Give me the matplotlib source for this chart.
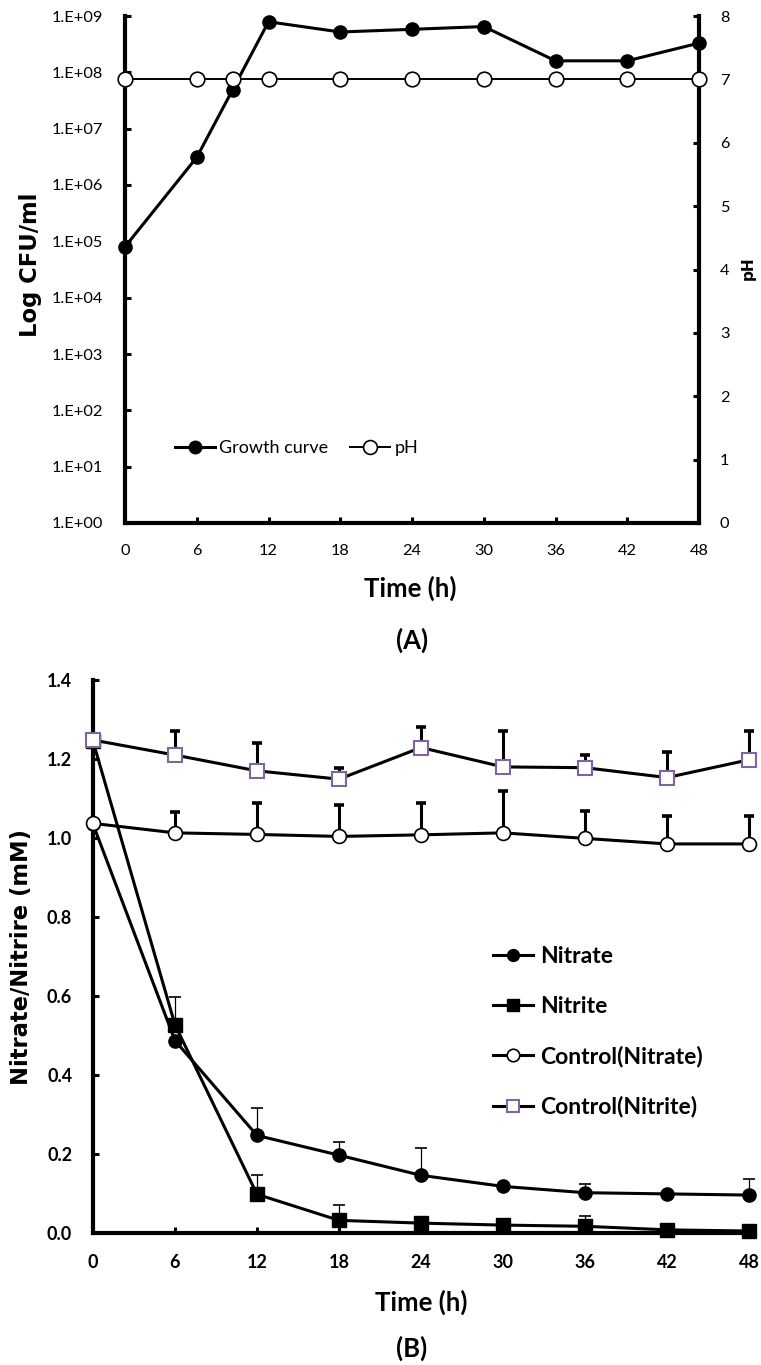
import numpy as np
import matplotlib
matplotlib.use("Agg")
import matplotlib.pyplot as plt
from matplotlib.ticker import NullLocator

# ---------------- data: panel A ----------------
time_a = [0, 6, 9, 12, 18, 24, 30, 36, 42, 48]
growth_cfu = [8.0e4, 3.1e6, 4.9e7, 7.9e8, 5.2e8, 5.8e8, 6.5e8, 1.6e8, 1.6e8, 3.3e8]
ph_values = [7.0, 7.0, 7.0, 7.0, 7.0, 7.0, 7.0, 7.0, 7.0, 7.0]
log_ticks = [1e0, 1e1, 1e2, 1e3, 1e4, 1e5, 1e6, 1e7, 1e8, 1e9]
log_tick_labels = ["1.E+00", "1.E+01", "1.E+02", "1.E+03", "1.E+04",
                   "1.E+05", "1.E+06", "1.E+07", "1.E+08", "1.E+09"]
ph_ticks = [0, 1, 2, 3, 4, 5, 6, 7, 8]
time_ticks = [0, 6, 12, 18, 24, 30, 36, 42, 48]

# ---------------- data: panel B ----------------
time_b = [0, 6, 12, 18, 24, 30, 36, 42, 48]
nitrate = [1.035, 0.487, 0.247, 0.197, 0.146, 0.118, 0.102, 0.099, 0.096]
nitrate_err = [0.0, 0.0, 0.070, 0.033, 0.070, 0.0, 0.022, 0.0, 0.040]
nitrite = [1.245, 0.527, 0.098, 0.032, 0.025, 0.020, 0.017, 0.008, 0.005]
nitrite_err = [0.0, 0.070, 0.050, 0.038, 0.015, 0.0, 0.027, 0.0, 0.0]
ctrl_nitrate = [1.037, 1.013, 1.009, 1.004, 1.008, 1.013, 0.999, 0.985, 0.985]
ctrl_nitrate_err = [0.0, 0.053, 0.080, 0.080, 0.080, 0.105, 0.070, 0.070, 0.070]
ctrl_nitrite = [1.248, 1.210, 1.170, 1.149, 1.229, 1.180, 1.178, 1.153, 1.198]
ctrl_nitrite_err = [0.0, 0.062, 0.070, 0.028, 0.052, 0.090, 0.032, 0.065, 0.073]
conc_ticks = [0.0, 0.2, 0.4, 0.6, 0.8, 1.0, 1.2, 1.4]

plt.rcParams["font.family"] = ["Lato", "DejaVu Sans"]

W, H = 761, 1365
fig = plt.figure(figsize=(W / 100, H / 100), dpi=100)


def fx(px):
    return px / W


def fy(py):
    return 1 - py / H


SPINE_W = 3.0
PURPLE = "#8064A2"

# ================= Panel A =================
axA = fig.add_axes([fx(125), fy(523), fx(699) - fx(125), fy(16) - fy(523)])
axA.set_yscale("log")
axA.set_xlim(0, 48)
axA.set_ylim(1, 1e9)
axA.plot(time_a, growth_cfu, color="black", lw=2.2, marker="o", ms=9.5,
         mfc="black", mec="black", clip_on=False, zorder=4, label="Growth curve")
axA.set_yticks(log_ticks, labels=log_tick_labels)
axA.yaxis.set_minor_locator(NullLocator())
axA.set_xticks(time_ticks, labels=[str(t) for t in time_ticks])
for s in ["top", "right"]:
    axA.spines[s].set_visible(False)
for s in ["left", "bottom"]:
    axA.spines[s].set_linewidth(SPINE_W)
axA.tick_params(axis="y", direction="in", length=4, width=2.2, labelsize=11.8, pad=16)
axA.tick_params(axis="x", direction="in", length=4, width=2.2, labelsize=11.8, pad=15)

axP = axA.twinx()
axP.set_ylim(0, 8)
axP.plot(time_a, ph_values, color="black", lw=1.4, marker="o", ms=10.5,
         mfc="white", mec="black", mew=1.2, clip_on=False, zorder=5, label="pH")
axP.set_yticks(ph_ticks, labels=[str(t) for t in ph_ticks])
for s in ["top", "left", "bottom"]:
    axP.spines[s].set_visible(False)
axP.spines["right"].set_linewidth(SPINE_W)
axP.tick_params(axis="y", direction="in", length=4, width=2.2, labelsize=11.8, pad=15)

hA = [axA.get_lines()[0], axP.get_lines()[0]]
fig.legend(hA, ["Growth curve", "pH"], loc="center left",
           bbox_to_anchor=(fx(175), fy(448)), frameon=False, ncol=2,
           fontsize=13, handlelength=2.2, handletextpad=0.25,
           columnspacing=1.2, borderpad=0, borderaxespad=0, markerscale=0.95)

fig.text(fx(30), fy(265), "Log CFU/ml", rotation=90, ha="center", va="center",
         fontsize=16.3, fontweight="bold", family="DejaVu Sans")
fig.text(fx(748), fy(268), "pH", rotation=90, ha="center", va="center",
         fontsize=11, fontweight="bold", family="DejaVu Sans")
fig.text(fx(410), fy(588), "Time (h)", ha="center", va="center",
         fontsize=18.5, fontweight="bold")
fig.text(fx(412), fy(640), "(A)", ha="center", va="center",
         fontsize=18.5, fontweight="bold")

# ================= Panel B =================
axB = fig.add_axes([fx(93), fy(1233), fx(749) - fx(93), fy(680) - fy(1233)])
axB.set_xlim(0, 48)
axB.set_ylim(0, 1.4)

tb = np.array(time_b)
zeros = np.zeros(len(time_b))

# error bars (upper only)
axB.errorbar(tb, nitrate, yerr=[zeros, nitrate_err], fmt="none", ecolor="black",
             elinewidth=0.9, capsize=4, capthick=1.2, clip_on=False, zorder=3)
axB.errorbar(tb, nitrite, yerr=[zeros, nitrite_err], fmt="none", ecolor="black",
             elinewidth=0.9, capsize=4, capthick=1.2, clip_on=False, zorder=3)
axB.errorbar(tb, ctrl_nitrate, yerr=[zeros, ctrl_nitrate_err], fmt="none", ecolor="black",
             elinewidth=2.2, capsize=3.5, capthick=2.6, clip_on=False, zorder=3)
axB.errorbar(tb, ctrl_nitrite, yerr=[zeros, ctrl_nitrite_err], fmt="none", ecolor="black",
             elinewidth=2.2, capsize=3.5, capthick=2.6, clip_on=False, zorder=3)

l1, = axB.plot(tb, nitrate, color="black", lw=2.2, marker="o", ms=9.5,
               mfc="black", mec="black", clip_on=False, zorder=4)
l2, = axB.plot(tb, nitrite, color="black", lw=2.2, marker="s", ms=9.5,
               mfc="black", mec="black", clip_on=False, zorder=4)
l3, = axB.plot(tb, ctrl_nitrate, color="black", lw=2.2, marker="o", ms=10,
               mfc="white", mec="black", mew=1.2, clip_on=False, zorder=5)
l4, = axB.plot(tb, ctrl_nitrite, color="black", lw=2.2, marker="s", ms=10,
               mfc="white", mec=PURPLE, mew=1.5, clip_on=False, zorder=6)

axB.set_yticks(conc_ticks, labels=[f"{v:.1f}" for v in conc_ticks])
axB.set_xticks(time_ticks, labels=[str(t) for t in time_ticks])
for s in ["top", "right"]:
    axB.spines[s].set_visible(False)
for s in ["left", "bottom"]:
    axB.spines[s].set_linewidth(SPINE_W)
axB.tick_params(axis="y", direction="in", length=4, width=2.2, labelsize=13, pad=15)
axB.tick_params(axis="x", direction="in", length=4, width=2.2, labelsize=13, pad=15)
for lab in axB.get_xticklabels() + axB.get_yticklabels():
    lab.set_fontweight("bold")

fig.legend([l1, l2, l3, l4], ["Nitrate", "Nitrite", "Control(Nitrate)", "Control(Nitrite)"],
           loc="center left", bbox_to_anchor=(fx(493), fy(1032)), frameon=False,
           prop={"weight": "bold", "size": 16.5}, handlelength=1.75, handletextpad=0.3,
           labelspacing=1.25, borderpad=0, borderaxespad=0, markerscale=0.9)

fig.text(fx(22), fy(957), "Nitrate/Nitrire (mM)", rotation=90, ha="center", va="center",
         fontsize=16.3, fontweight="bold", family="DejaVu Sans")
fig.text(fx(421), fy(1302), "Time (h)", ha="center", va="center",
         fontsize=18.5, fontweight="bold")
fig.text(fx(412), fy(1348), "(B)", ha="center", va="center",
         fontsize=18.5, fontweight="bold")

fig.savefig("out.png", dpi=100)
